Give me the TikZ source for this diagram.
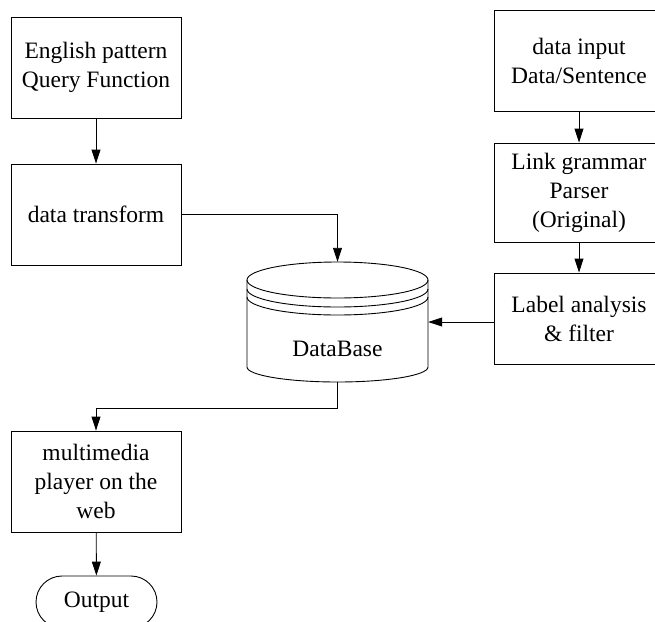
\documentclass[tikz,border=0pt]{standalone}
\usepackage{fontspec}
\setmainfont{Liberation Serif}
\usetikzlibrary{arrows.meta}
\begin{document}
\begin{tikzpicture}[x=1pt,y=-1pt,
  every node/.style={font=\fontsize{23.5}{29}\selectfont, align=center, inner sep=0pt},
  box/.style={draw, line width=0.9pt, minimum width=170pt},
  conn/.style={line width=0.9pt},
  arr/.style={conn, -{Triangle[length=14pt,width=9pt]}}]
\useasboundingbox (0,0) rectangle (655,621);
\clip (0,0) rectangle (655,621);
% left column
\node[box, minimum height=101pt] (b1) at (96,67.5) {English pattern\\Query Function};
\node[box, minimum height=101pt] (b2) at (96,214.5) {data transform};
\node[box, minimum height=101pt] (b6) at (96,481.5) {multimedia\\player on the\\web};
\node[draw, line width=0.9pt, rounded corners=26pt, minimum width=121pt, minimum height=52pt] (out) at (96.5,602) {Output};
% right column
\node[box, minimum height=101pt] (b3) at (579,60.5) {data input\\Data/Sentence};
\node[box, minimum height=99pt] (b4) at (579,192.5) {Link grammar\\Parser\\(Original)};
\node[box, minimum height=91pt] (b5) at (579,318.5) {Label analysis\\\& filter};
% database
\node[minimum width=181pt, minimum height=120pt] (db) at (337.5,322) {};
\draw[conn] (337.5,280) ellipse [x radius=90.5pt, y radius=18pt];
\draw[conn] (247,289) arc [start angle=180, end angle=360, x radius=90.5pt, y radius=18pt];
\draw[conn] (247,297) arc [start angle=180, end angle=360, x radius=90.5pt, y radius=18pt];
\draw[conn] (247,280) -- (247,367) arc [start angle=180, end angle=360, x radius=90.5pt, y radius=15pt] -- (428,280);
\node at (337.5,349) {DataBase};
% connectors
\draw[arr] (b1) -- (b2);
\draw[arr] (b2.east) -| (db.north);
\draw[arr] (b3) -- (b4);
\draw[arr] (b4) -- (b5);
\draw[arr] (b5.west |- db.east) -- (db.east);
\draw[arr] (db.south) -- ++(0,26) -| (b6.north);
\draw[arr] (b6) -- (out);
\end{tikzpicture}
\end{document}
